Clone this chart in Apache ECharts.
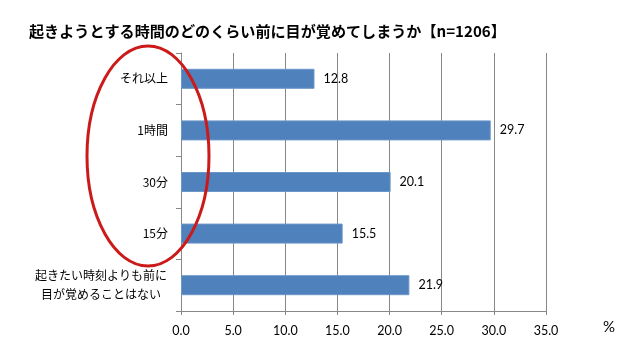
<!DOCTYPE html>
<html>
<head>
<meta charset="utf-8">
<script src="https://cdn.jsdelivr.net/npm/echarts@6/dist/echarts.min.js"></script>
<style>
html,body{margin:0;padding:0;background:#fff;}
#chart{width:640px;height:349px;}
</style>
</head>
<body>
<div id="chart"></div>
<script>
const titleText = '起きようとする時間のどのくらい前に目が覚めてしまうか【n=1206】';
const categories = ['それ以上', '1時間', '30分', '15分', '起きたい時刻よりも前に\n目が覚めることはない'];
const values = [12.8, 29.7, 20.1, 15.5, 21.9];
const xTicks = { min: 0, max: 35, interval: 5 };
const unitLabel = '%';

const chart = echarts.init(document.getElementById('chart'), null, { renderer: 'canvas' });
const jp = '"Noto Sans CJK JP", sans-serif';
const num = 'Lato, "Liberation Sans", sans-serif';

chart.setOption({
  animation: false,
  backgroundColor: '#ffffff',
  title: {
    text: titleText,
    left: 24,
    top: 19,
    textStyle: { fontFamily: jp, fontSize: 15.1, fontWeight: 'bold', color: '#000' }
  },
  grid: { left: 181, right: 94, top: 53, bottom: 38, containLabel: false },
  xAxis: {
    type: 'value',
    min: xTicks.min, max: xTicks.max, interval: xTicks.interval,
    axisLine: { show: true, lineStyle: { color: '#888', width: 1 } },
    axisTick: { show: true, length: 4, lineStyle: { color: '#888' } },
    splitLine: { show: true, lineStyle: { color: '#888', width: 1 } },
    axisLabel: {
      margin: 13,
      fontFamily: num, fontSize: 12.5, color: '#000',
      formatter: v => v.toFixed(1)
    }
  },
  yAxis: {
    type: 'category',
    inverse: true,
    data: categories,
    axisLine: { show: true, lineStyle: { color: '#888', width: 1 } },
    axisTick: { show: true, length: 5, alignWithLabel: false, lineStyle: { color: '#888' } },
    splitLine: { show: false },
    axisLabel: {
      margin: 13,
      fontFamily: jp, fontSize: 12, color: '#000', lineHeight: 19,
      formatter: function (v) {
        if (v.indexOf('\n') < 0) return v;
        return v.split('\n').map(s => '{c|' + s + '}').join('\n');
      },
      rich: {
        c: { fontFamily: jp, fontSize: 12, color: '#000', lineHeight: 19, width: 134, align: 'center' }
      }
    }
  },
  series: [{
    type: 'bar',
    data: values,
    barWidth: 20,
    itemStyle: { color: '#4F81BD', borderColor: '#6b96c8', borderWidth: 1 },
    label: {
      show: true, position: 'right', distance: 9,
      fontFamily: num, fontSize: 12.5, color: '#000',
      formatter: p => p.value.toFixed(1)
    }
  }],
  graphic: [
    {
      type: 'ellipse',
      shape: { cx: 148, cy: 156, rx: 61, ry: 110 },
      style: { fill: 'none', stroke: '#cc1a1a', lineWidth: 3 },
      z: 100
    },
    {
      type: 'text',
      left: 603, top: 320,
      style: { text: unitLabel, fontFamily: num, fontSize: 15, fill: '#000' }
    }
  ]
});
</script>
</body>
</html>
